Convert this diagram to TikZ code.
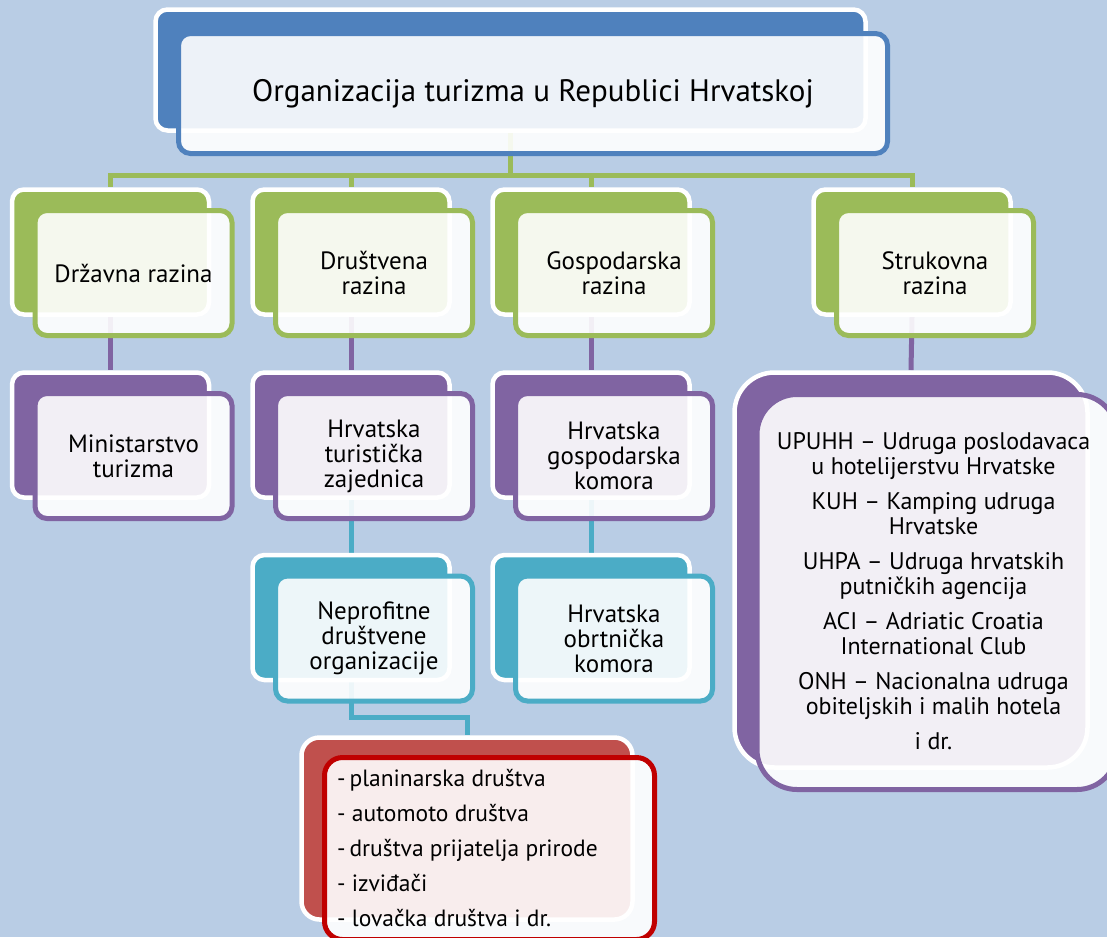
\documentclass[tikz,border=0pt]{standalone}
\usepackage{fontspec}
\setmainfont{PT Sans}
\definecolor{bg}{HTML}{B9CDE5}
\definecolor{cblue}{HTML}{4F81BD}
\definecolor{cgreen}{HTML}{9BBB59}
\definecolor{cpurple}{HTML}{8064A2}
\definecolor{ccyan}{HTML}{4BACC6}
\definecolor{cred}{HTML}{C0504D}
\definecolor{cdred}{HTML}{C00000}
\begin{document}
\begin{tikzpicture}[x=1pt,y=-1pt,
  backbox/.style={draw=white, fill=#1, line width=4.5pt, rounded corners=12pt,
    minimum width=197pt, minimum height=125pt, inner sep=0pt},
  frontbox/.style={draw=#1, line width=5pt, fill=white, fill opacity=0.9, text opacity=1,
    rounded corners=12pt, minimum width=197pt, minimum height=125pt, inner sep=0pt,
    align=center, font=\fontsize{25pt}{25pt}\selectfont},
  link/.style={draw=#1, line width=5pt},
]
\useasboundingbox (0,0) rectangle (1107,937);
\fill[bg] (0,0) rectangle (1107,937);

\coordinate (bus) at (0,175);
\coordinate (elbow) at (0,717);

% ---- anchors of the back boxes, for the connectors ----
\path
  (510.5,70) node[backbox=cblue, draw=none, fill=none, minimum width=710pt, minimum height=121pt] (tb) {}
  (110.5,252) node[backbox=cgreen, draw=none, fill=none] (b1) {}
  (351,252) node[backbox=cgreen, draw=none, fill=none] (b2) {}
  (591,252) node[backbox=cgreen, draw=none, fill=none] (b3) {}
  (912,252) node[backbox=cgreen, draw=none, fill=none] (b4) {}
  (110.5,435) node[backbox=cpurple, draw=none, fill=none] (m1) {}
  (351,435) node[backbox=cpurple, draw=none, fill=none] (m2) {}
  (591,435) node[backbox=cpurple, draw=none, fill=none] (m3) {}
  (911,570) node[backbox=cpurple, draw=none, fill=none, minimum width=353pt, minimum height=395pt] (m4) {}
  (351,617.5) node[backbox=ccyan, draw=none, fill=none] (c2) {}
  (591,617.5) node[backbox=ccyan, draw=none, fill=none] (c3) {}
  (467,828.5) node[backbox=cred, draw=none, fill=none, minimum width=331pt, minimum height=182pt] (r1) {};

% ---- connectors ----
\draw[link=cgreen] (tb.south) -- (tb.south |- bus) -| (b1.north);
\draw[link=cgreen] (tb.south |- bus) -| (b2.north);
\draw[link=cgreen] (tb.south |- bus) -| (b3.north);
\draw[link=cgreen] (tb.south |- bus) -| (b4.north);
\draw[link=cpurple] (b1.south) -- (m1.north);
\draw[link=cpurple] (b2.south) -- (m2.north);
\draw[link=cpurple] (b3.south) -- (m3.north);
\draw[link=cpurple] (b4.south) -- (m4.north);
\draw[link=ccyan] (m2.south) -- (c2.north);
\draw[link=ccyan] (m3.south) -- (c3.north);
\draw[link=ccyan] (c2.south) -- (c2.south |- elbow) -| (r1.north);

% ---- title ----
\node[backbox=cblue, minimum width=710pt, minimum height=121pt] (tbk) at (510.5,70) {};
\node[frontbox=cblue, minimum width=709pt, minimum height=120pt, font=\fontsize{31pt}{31pt}\selectfont] (tf) at (533,93.5) {Organizacija turizma u Republici Hrvatskoj};

% ---- level 1 ----
\node[backbox=cgreen] (b1k) at (110.5,252) {};
\node[frontbox=cgreen] (f1) at (133.5,273) {Državna razina};
\node[backbox=cgreen] (b2k) at (351,252) {};
\node[frontbox=cgreen] (f2) at (374,273) {Društvena\\razina};
\node[backbox=cgreen] (b3k) at (591,252) {};
\node[frontbox=cgreen] (f3) at (614,273) {Gospodarska\\razina};
\node[backbox=cgreen] (b4k) at (912,252) {};
\node[frontbox=cgreen] (f4) at (935,273) {Strukovna\\razina};

% ---- level 2 ----
\node[backbox=cpurple] (m1k) at (110.5,435) {};
\node[frontbox=cpurple] (g1) at (133.5,456) {Ministarstvo\\turizma};
\node[backbox=cpurple] (m2k) at (351,435) {};
\node[frontbox=cpurple] (g2) at (374,456) {Hrvatska\\turistička\\zajednica};
\node[backbox=cpurple] (m3k) at (591,435) {};
\node[frontbox=cpurple] (g3) at (614,456) {Hrvatska\\gospodarska\\komora};
\node[backbox=cpurple, rounded corners=40pt, minimum width=353pt, minimum height=395pt] (m4k) at (911,570) {};
\node[frontbox=cpurple, rounded corners=40pt, minimum width=360pt, minimum height=395pt,
  font=\fontsize{24pt}{25pt}\selectfont] (g4) at (937,592)
  {};
\node[align=center, inner sep=0pt, font=\fontsize{24pt}{25pt}\selectfont] (g4t) at (933.5,591)
  {UPUHH – Udruga poslodavaca\\u hotelijerstvu Hrvatske\\[10pt]KUH – Kamping udruga\\Hrvatske\\[10pt]UHPA – Udruga hrvatskih\\putničkih agencija\\[10pt]ACI – Adriatic Croatia\\International Club\\[10pt]ONH – Nacionalna udruga\\obiteljskih i malih hotela\\[10pt]i dr.};

% ---- level 3 ----
\node[backbox=ccyan] (c2k) at (351,617.5) {};
\node[frontbox=ccyan] (h2) at (374,638.5) {Neprofitne\\društvene\\organizacije};
\node[backbox=ccyan] (c3k) at (591,617.5) {};
\node[frontbox=ccyan] (h3) at (614,638.5) {Hrvatska\\obrtnička\\komora};

% ---- red box ----
\node[backbox=cred, rounded corners=18pt, minimum width=331pt, minimum height=182pt] (r1k) at (467,828.5) {};
\node[frontbox=cdred, rounded corners=18pt, minimum width=330pt, minimum height=182pt] (rf) at (489.5,848.5) {};
\node[anchor=west, inner sep=0pt, align=left, font=\fontsize{23.5pt}{35pt}\selectfont] (rt) at (337,848)
  {-\,planinarska društva\\- automoto društva\\-\,društva prijatelja prirode\\- izviđači\\- lovačka društva i dr.};
\end{tikzpicture}
\end{document}
